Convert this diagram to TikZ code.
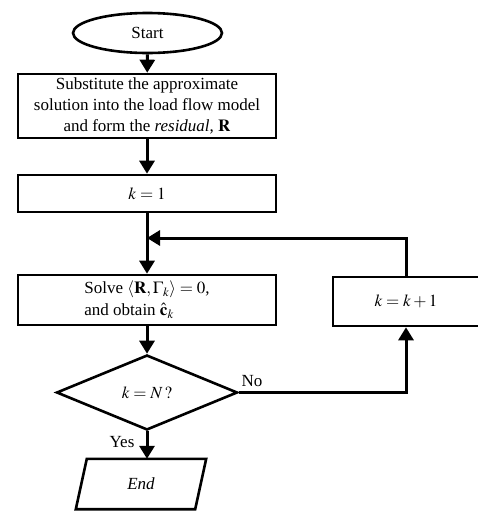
\documentclass[tikz,border=0pt]{standalone}
\usepackage{mathptmx}
\usepackage{fontspec}
\setmainfont{Liberation Serif}
\usetikzlibrary{arrows.meta,shapes.geometric}
\tikzset{
  box/.style={draw,line width=2.6pt,rectangle,inner sep=0pt,align=center},
  arr/.style={line width=3pt,-{Triangle[length=13pt,width=15pt]}},
  plain/.style={line width=3pt},
  lbl/.style={inner sep=0pt}
}
\begin{document}
\begin{tikzpicture}[x=1pt,y=-1pt,font=\fontsize{17}{21}\selectfont]
\useasboundingbox (0,0) rectangle (478,512);
\node[draw,line width=2.6pt,ellipse,minimum width=149pt,minimum height=40pt,inner sep=0pt] (start) at (147.5,33) {Start};
\node[box,minimum width=258pt,minimum height=64pt] (subst) at (147,106) {Substitute the approximate\\ solution into the load flow model\\ and form the \textit{residual}, $\mathbf{R}$};
\node[box,minimum width=258pt,minimum height=37pt] (kone) at (147,193.5) {$k=1$};
\node[box,minimum width=258pt,minimum height=50pt] (solve) at (147,300) {\begin{tabular}{@{}l@{}}Solve $\langle \mathbf{R},\Gamma_k\rangle = 0$,\\[1pt] and obtain $\hat{\mathbf{c}}_k$\end{tabular}};
\node[box,minimum width=146pt,minimum height=49pt] (kinc) at (406,301.5) {$k=k+1$};
\node[draw,line width=2.6pt,diamond,minimum width=181pt,minimum height=75pt,inner sep=0pt] (dec) at (147,392.5) {$k=N\,?$};
\node[inner sep=0pt,minimum width=108pt,minimum height=50pt] (end) at (141,484) {\textit{End}};
\draw[line width=2.6pt,line join=miter] (end.north west) -- ([xshift=11pt]end.north east) -- (end.south east) -- ([xshift=-11pt]end.south west) -- cycle;
\coordinate (junc) at (147,238);
\draw[arr] (start) -- (subst);
\draw[arr] (subst) -- (kone);
\draw[plain] (kone) -- (junc);
\draw[arr] (junc) -- (solve);
\draw[arr] (solve) -- (dec);
\draw[arr] (dec.south) -- (end.north -| dec.south);
\draw[arr] (dec.east) -| (kinc.south);
\draw[arr] (kinc.north) |- (junc);
\node[lbl] (no) at (252,381) {No};
\node[lbl] (yes) at (122,442) {Yes};
\end{tikzpicture}
\end{document}
